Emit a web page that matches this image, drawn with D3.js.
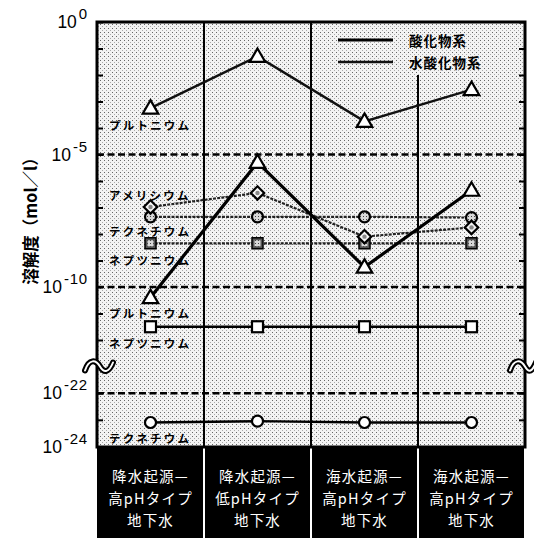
<!DOCTYPE html>
<html>
<head>
<meta charset="utf-8">
<script src="https://cdn.jsdelivr.net/npm/d3@7"></script>
<style>
  body { margin: 0; background: #fff; }
  text { font-family: "Noto Sans CJK JP", "Noto Sans", sans-serif; }
  .num { font-family: "Liberation Sans", Arial, sans-serif; }
</style>
</head>
<body>
<svg id="chart" width="534" height="541"></svg>
<script>
// Groundwater types (one column each), printed on three lines
const waterTypes = ["precip-highPH", "precip-lowPH", "sea-highPH-a", "sea-highPH-b"];
const waterTypeLines = [
  ["降水起源—", "高pHタイプ", "地下水"],
  ["降水起源—", "低pHタイプ", "地下水"],
  ["海水起源—", "高pHタイプ", "地下水"],
  ["海水起源—", "高pHタイプ", "地下水"]
];

// Solubility as log10(mol/l), one value per groundwater type
const puHydroxide = [-3.25, -1.3, -3.75, -2.55];
const amHydroxide = [-6.98, -6.45, -8.1, -7.75];
const tcHydroxide = [-7.35, -7.35, -7.35, -7.38];
const npHydroxide = [-8.35, -8.35, -8.35, -8.35];
const puOxide     = [-10.4, -5.3, -9.25, -6.35];
const npOxide     = [-11.5, -11.5, -11.5, -11.5];
const tcOxide     = [-23.1, -23.05, -23.1, -23.1];

// Element names printed beside the first column
const elementNames = ["プルトニウム", "アメリシウム", "テクネチウム", "ネプツニウム",
                      "プルトニウム", "ネプツニウム", "テクネチウム"];

// Axis ticks (decade exponents)
const tickExponents = [0, -1, -2, -3, -4, -5, -6, -7, -8, -9, -10, -11, -12, -22, -23, -24];
const labelExponents = [0, -5, -10, -22, -24];
const gridExponents = [-5, -10, -22];

const legendLabels = ["酸化物系", "水酸化物系"];
const axisTitle = "溶解度（mol／l）";

const series = [
  { values: puHydroxide, name: elementNames[0], marker: "triangle", line: "hydroSolid", labelDy: 17 },
  { values: tcHydroxide, name: elementNames[2], marker: "circleFilled", line: "hydroDotted", labelDy: 14 },
  { values: npHydroxide, name: elementNames[3], marker: "squareFilled", line: "hydroDotted", labelDy: 17 },
  { values: amHydroxide, name: elementNames[1], marker: "diamond", line: "hydroDotted", labelDy: -12 },
  { values: puOxide,     name: elementNames[4], marker: "triangle", line: "oxideThick", labelDy: 15 },
  { values: npOxide,     name: elementNames[5], marker: "square", line: "oxide", labelDy: 16 },
  { values: tcOxide,     name: elementNames[6], marker: "circle", line: "oxide", labelDy: 15 }
];

const lineStyles = {
  oxideThick:  { width: 3.2, dash: null, color: "#000" },
  oxide:       { width: 2.4, dash: null, color: "#000" },
  hydroSolid:  { width: 2.4, dash: null, color: "#111" },
  hydroDotted: { width: 2.2, dash: "3,1.2", color: "#222" }
};

const svg = d3.select("#chart");
const plotLeft = 97, plotRight = 525, plotTop = 22, plotBottom = 447;

// Shading of the plot field: fine stipple
const defs = svg.append("defs");
const pat = defs.append("pattern").attr("id", "stipple")
  .attr("width", 4).attr("height", 4).attr("patternUnits", "userSpaceOnUse");
pat.append("rect").attr("width", 4).attr("height", 4).attr("fill", "#f3f3f3");
pat.append("rect").attr("x", 0).attr("y", 0).attr("width", 1).attr("height", 1).attr("fill", "#666");
pat.append("rect").attr("x", 2).attr("y", 2).attr("width", 1).attr("height", 1).attr("fill", "#aaa");
const dotPat = defs.append("pattern").attr("id", "markerDots")
  .attr("width", 3).attr("height", 3).attr("patternUnits", "userSpaceOnUse");
dotPat.append("rect").attr("width", 3).attr("height", 3).attr("fill", "#d8d8d8");
dotPat.append("rect").attr("width", 1).attr("height", 1).attr("fill", "#444");

// Scales: the log axis skips from 1e-13 straight to 1e-21
const x = d3.scaleBand().domain(waterTypes).range([plotLeft, plotRight]);
const y = d3.scaleLinear().domain([0, -13, -21, -24]).range([plotTop, 366.5, 366.5, plotBottom - 0.5]);
const cx = d => x(d) + x.bandwidth() / 2;

svg.append("rect").attr("x", plotLeft).attr("y", plotTop)
  .attr("width", plotRight - plotLeft).attr("height", plotBottom - plotTop)
  .attr("fill", "url(#stipple)");

// Inward ticks on both sides
const axL = d3.axisLeft(y).tickValues(tickExponents).tickSize(-6).tickFormat("");
const axR = d3.axisRight(y).tickValues(tickExponents).tickSize(-6).tickFormat("");
svg.append("g").attr("transform", `translate(${plotLeft},0)`).call(axL)
  .call(g => g.select(".domain").remove())
  .call(g => g.selectAll("line").attr("stroke-width", 2));
svg.append("g").attr("transform", `translate(${plotRight},0)`).call(axR)
  .call(g => g.select(".domain").remove())
  .call(g => g.selectAll("line").attr("stroke-width", 2));

// Tick labels 10^n
labelExponents.forEach(e => {
  const t = svg.append("text").attr("class", "num")
    .attr("x", 88).attr("y", y(e) + 6)
    .attr("text-anchor", "end").attr("font-size", 17.5).attr("fill", "#000");
  t.append("tspan").text("10");
  t.append("tspan").attr("dy", -9).attr("dx", 2).attr("font-size", 15).attr("letter-spacing", 0.8)
    .text(e === 0 ? "0" : "-" + Math.abs(e));
});

// Dashed reference lines
svg.selectAll(".grid").data(gridExponents).join("line")
  .attr("x1", plotLeft).attr("x2", plotRight)
  .attr("y1", d => y(d)).attr("y2", d => y(d))
  .attr("stroke", "#000").attr("stroke-width", 2.5).attr("stroke-dasharray", "7,3.5");

// Column dividers
waterTypes.slice(1).forEach((d, i) => {
  svg.append("line").attr("x1", x(d)).attr("x2", x(d))
    .attr("y1", i === 2 ? 75 : plotTop).attr("y2", plotBottom)
    .attr("stroke", "#000").attr("stroke-width", 2);
});

// Series lines
const lineGen = d3.line().x((v, i) => cx(waterTypes[i])).y(v => y(v));
series.forEach(s => {
  const st = lineStyles[s.line];
  svg.append("path").attr("d", lineGen(s.values))
    .attr("fill", "none").attr("stroke", st.color).attr("stroke-width", st.width)
    .attr("stroke-dasharray", st.dash);
});

// Markers
function drawMarker(g, kind, px, py) {
  if (kind === "triangle") {
    g.append("path").attr("d", d3.symbol(d3.symbolTriangle, 105)())
      .attr("transform", `translate(${px},${py + 1})`)
      .attr("fill", "#fff").attr("stroke", "#000").attr("stroke-width", 2.2);
  } else if (kind === "diamond") {
    g.append("path").attr("d", d3.symbol(d3.symbolSquare, 90)())
      .attr("transform", `translate(${px},${py}) rotate(45)`)
      .attr("fill", "#f4f4f4").attr("stroke", "#000").attr("stroke-width", 2.2);
    g.append("circle").attr("cx", px).attr("cy", py).attr("r", 2.2).attr("fill", "#888");
  } else if (kind === "circleFilled") {
    g.append("circle").attr("cx", px).attr("cy", py).attr("r", 5.5)
      .attr("fill", "url(#markerDots)").attr("stroke", "#000").attr("stroke-width", 2.2);
  } else if (kind === "circle") {
    g.append("circle").attr("cx", px).attr("cy", py).attr("r", 5.5)
      .attr("fill", "#fff").attr("stroke", "#000").attr("stroke-width", 2.2);
  } else if (kind === "squareFilled") {
    g.append("rect").attr("x", px - 5.5).attr("y", py - 5.5).attr("width", 11).attr("height", 11)
      .attr("fill", "#555").attr("stroke", "#000").attr("stroke-width", 1.5);
    g.append("rect").attr("x", px - 3).attr("y", py - 3).attr("width", 6).attr("height", 6)
      .attr("fill", "url(#markerDots)");
  } else if (kind === "square") {
    g.append("rect").attr("x", px - 5.5).attr("y", py - 5.5).attr("width", 11).attr("height", 11)
      .attr("fill", "#fff").attr("stroke", "#000").attr("stroke-width", 2.2);
  }
}
const markerG = svg.append("g");
series.forEach(s => {
  s.values.forEach((v, i) => drawMarker(markerG, s.marker, cx(waterTypes[i]), y(v)));
});

// Element names beside the first column
series.forEach(s => {
  svg.append("text").attr("x", 109).attr("y", y(s.values[0]) + s.labelDy)
    .attr("dominant-baseline", "central").attr("font-size", 11.5).attr("font-weight", 700)
    .attr("letter-spacing", 2.2).attr("fill", "#000").text(s.name);
});

// Legend
const legendStyles = [lineStyles.oxideThick, lineStyles.hydroSolid];
legendLabels.forEach((lab, i) => {
  const ly = 40 + i * 22;
  const st = legendStyles[i];
  svg.append("line").attr("x1", 338).attr("x2", 393).attr("y1", ly).attr("y2", ly)
    .attr("stroke", st.color).attr("stroke-width", st.width);
  svg.append("text").attr("x", 409).attr("y", ly).attr("dominant-baseline", "central")
    .attr("font-size", 13.5).attr("font-weight", 700).attr("letter-spacing", 1).text(lab);
});

// Plot frame
svg.append("rect").attr("x", plotLeft).attr("y", plotTop)
  .attr("width", plotRight - plotLeft).attr("height", plotBottom - plotTop)
  .attr("fill", "none").attr("stroke", "#000").attr("stroke-width", 3);

// Axis break marks
function breakMark(d) {
  svg.append("path").attr("d", d).attr("fill", "none").attr("stroke", "#000").attr("stroke-width", 6)
    .attr("stroke-linecap", "round");
  svg.append("path").attr("d", d).attr("fill", "none").attr("stroke", "#fff").attr("stroke-width", 2)
    .attr("stroke-linecap", "round");
}
const yb = y(-13);
breakMark(`M85,${yb + 4} C89,${yb - 8} 96,${yb - 7} 100,${yb} S109,${yb + 6} 113,${yb - 4}`);
breakMark(`M510,${yb + 4} C514,${yb - 8} 521,${yb - 7} 525,${yb} S532,${yb + 5} 536,${yb - 4}`);

// Axis title
svg.append("text").attr("transform", `translate(30,217) rotate(-90)`)
  .attr("text-anchor", "middle").attr("dominant-baseline", "central")
  .attr("font-size", 16.5).attr("font-weight", 700).text(axisTitle);

// Groundwater type boxes
waterTypes.forEach((d, i) => {
  svg.append("rect").attr("x", x(d) + (i === 0 ? 0 : 1)).attr("y", 448)
    .attr("width", x.bandwidth() - (i === 0 ? 1 : 2)).attr("height", 90).attr("fill", "#000");
  waterTypeLines[i].forEach((ln, j) => {
    svg.append("text").attr("x", cx(d)).attr("y", 475 + j * 22)
      .attr("text-anchor", "middle").attr("dominant-baseline", "central")
      .attr("font-size", 14.5).attr("letter-spacing", 1.2).attr("fill", "#fff").text(ln);
  });
});
</script>
</body>
</html>
